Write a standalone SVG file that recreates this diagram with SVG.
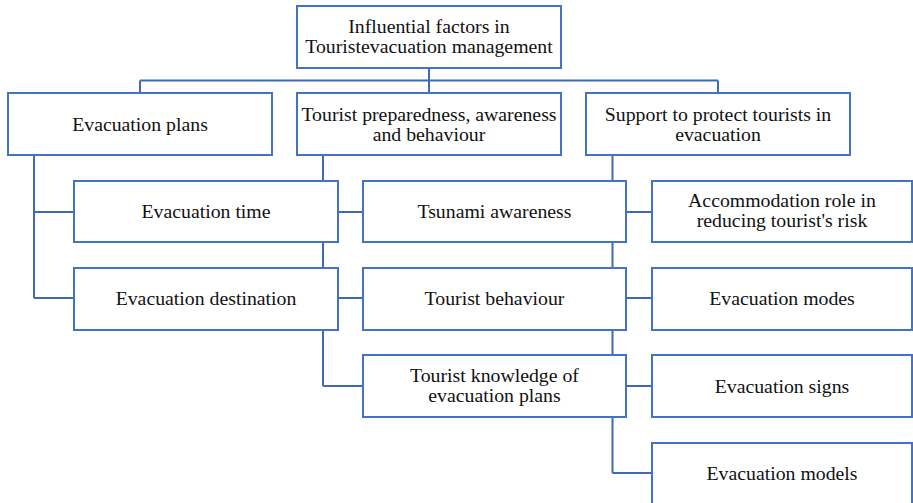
<svg xmlns="http://www.w3.org/2000/svg" width="913" height="503" viewBox="0 0 913 503">
<style>
.box{fill:#fff;stroke:#4472C4;stroke-width:2}
.con{fill:none;stroke:#3F68B5;stroke-width:2}
.t{font-family:'Liberation Serif','DejaVu Serif','Noto Serif',serif;font-size:19.8px;fill:#111;text-anchor:middle}
</style>
<rect width="913" height="503" fill="#fff"/>
<g id="connectors">
<path class="con" d="M429 68V80.5M140 80.5H718M140 80.5V93M429 80.5V93M718 80.5V93"/>
<path class="con" d="M34 155V298M34 212H74M34 298H74"/>
<path class="con" d="M323 155V386M323 212H363M323 298H363M323 386H363"/>
<path class="con" d="M612.5 155V473M612.5 212H652M612.5 298H652M612.5 386H652M612.5 473H652"/>
</g>
<g id="root"><rect class="box" x="297" y="6" width="264" height="62"/><text class="t" x="429" y="33">Influential factors in</text><text class="t" x="429" y="53">Touristevacuation management</text></g>
<g id="plans"><rect class="box" x="8" y="93" width="264" height="62"/><text class="t" x="140" y="130.5">Evacuation plans</text></g>
<g id="preparedness"><rect class="box" x="297" y="93" width="264" height="62"/><text class="t" x="429" y="120.5">Tourist preparedness, awareness</text><text class="t" x="429" y="140.5">and behaviour</text></g>
<g id="support"><rect class="box" x="586" y="93" width="264" height="62"/><text class="t" x="718" y="120.5">Support to protect tourists in</text><text class="t" x="718" y="140.5">evacuation</text></g>
<g id="evac-time"><rect class="box" x="74" y="181" width="264" height="61"/><text class="t" x="206" y="218.3">Evacuation time</text></g>
<g id="evac-dest"><rect class="box" x="74" y="268" width="264" height="62"/><text class="t" x="206" y="305">Evacuation destination</text></g>
<g id="tsunami"><rect class="box" x="363" y="181" width="263" height="61"/><text class="t" x="494.5" y="218.3">Tsunami awareness</text></g>
<g id="behaviour"><rect class="box" x="363" y="268" width="263" height="62"/><text class="t" x="494.5" y="305">Tourist behaviour</text></g>
<g id="knowledge"><rect class="box" x="363" y="355" width="263" height="62"/><text class="t" x="494.5" y="381.7">Tourist knowledge of</text><text class="t" x="494.5" y="402.2">evacuation plans</text></g>
<g id="accommodation"><rect class="box" x="652" y="181" width="260" height="61"/><text class="t" x="782" y="206.7">Accommodation role in</text><text class="t" x="782" y="226.7">reducing tourist's risk</text></g>
<g id="modes"><rect class="box" x="652" y="268" width="260" height="62"/><text class="t" x="782" y="305">Evacuation modes</text></g>
<g id="signs"><rect class="box" x="652" y="355" width="260" height="62"/><text class="t" x="782" y="392.5">Evacuation signs</text></g>
<g id="models"><rect class="box" x="652" y="443" width="260" height="64"/><text class="t" x="782" y="479.5">Evacuation models</text></g>
</svg>
